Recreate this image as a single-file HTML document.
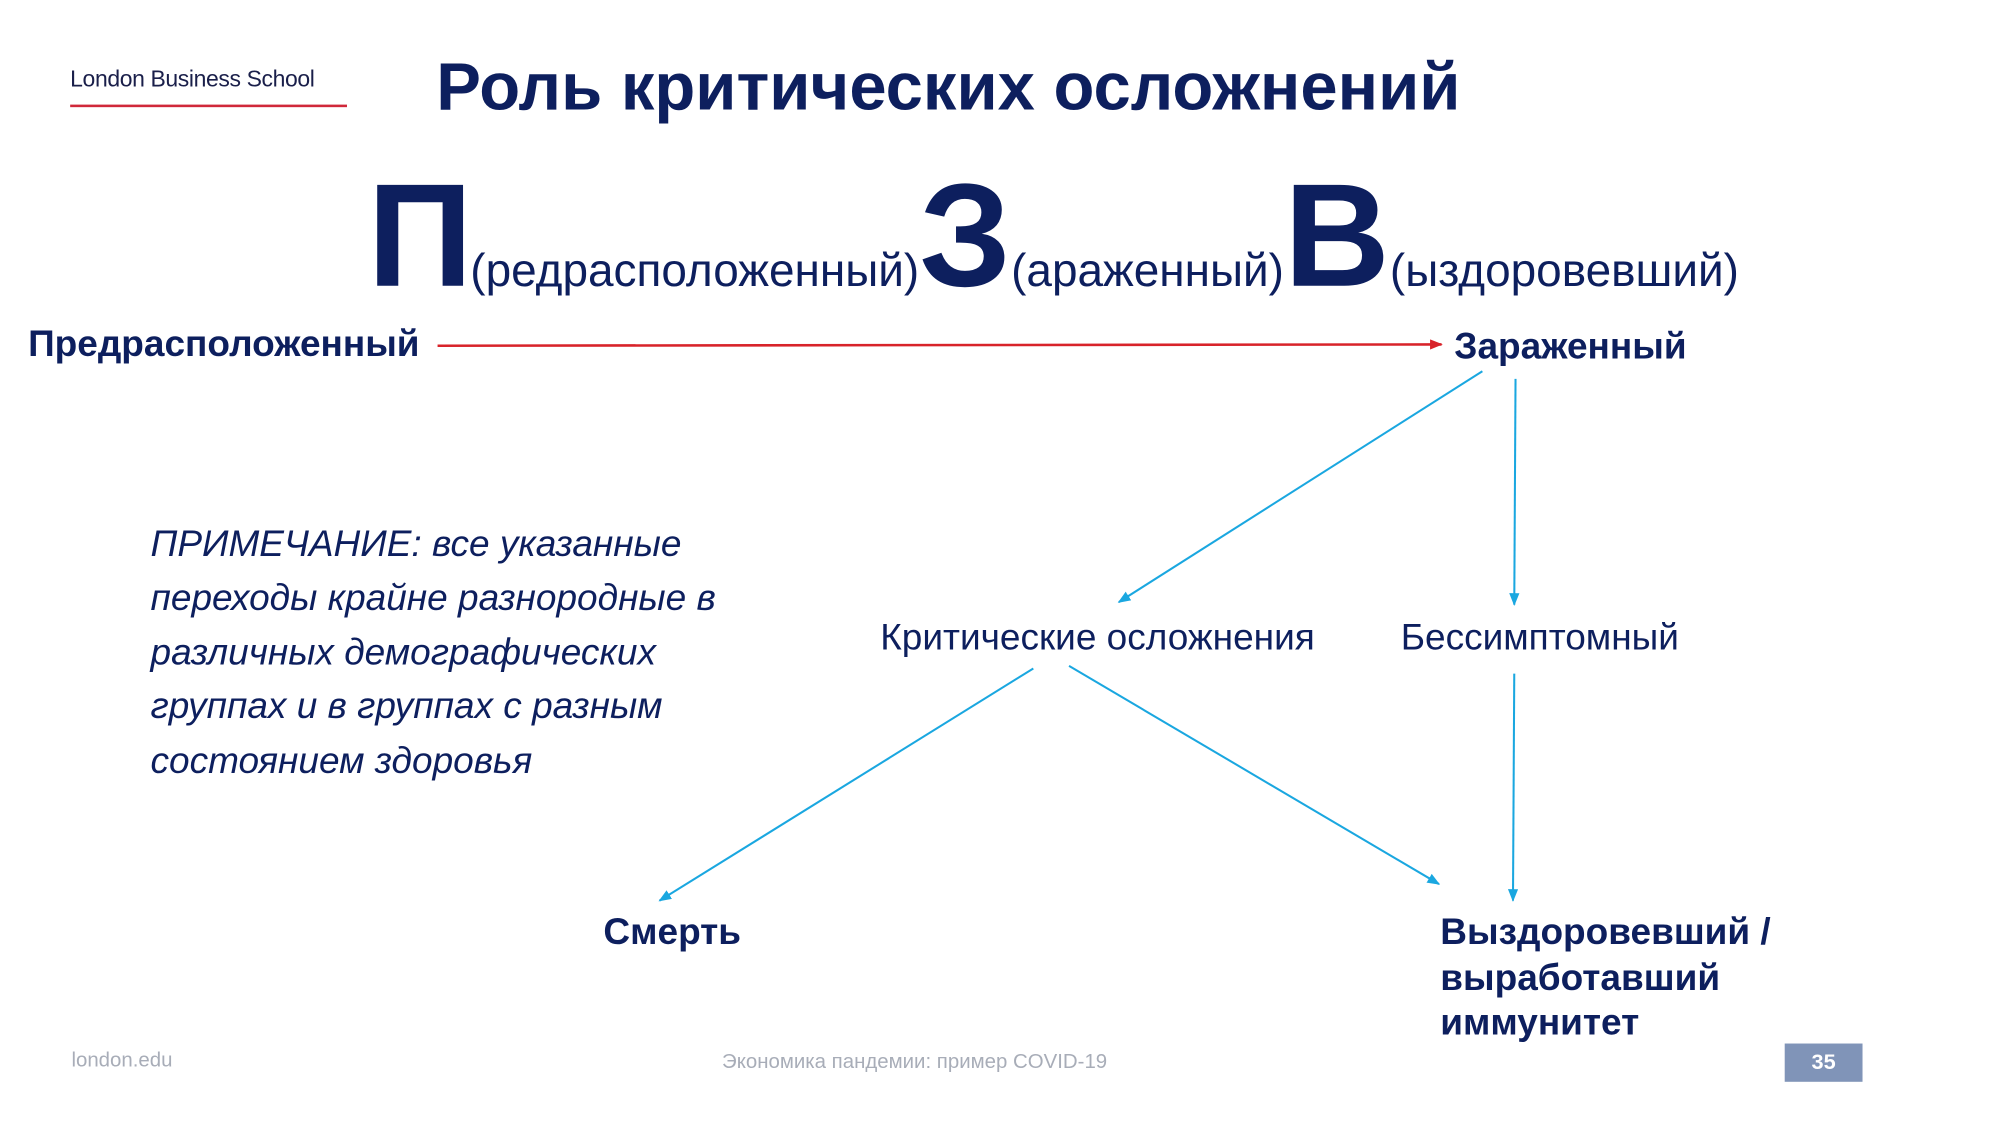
<!DOCTYPE html>
<html><head><meta charset="utf-8"><style>
html,body{margin:0;padding:0;background:#fff;width:2000px;height:1125px;overflow:hidden}
#s{position:absolute;left:0;top:0;width:1568px;height:882px;transform:scale(1.2757);transform-origin:0 0;font-family:"Liberation Sans",sans-serif;color:#0d1f5e}
.t{position:absolute;white-space:nowrap;line-height:1}
.b{font-weight:bold}
</style></head><body><div id="s">
<div class="t" style="left:55px;top:53px;font-size:18px;color:#1a1f4a;letter-spacing:-0.3px">London Business School</div>
<div style="position:absolute;left:55px;top:82px;width:217px;height:2px;background:#d0283a"></div>
<div class="t b" style="left:342px;top:43px;font-size:52.5px">Роль критических осложнений</div>
<div class="t" style="left:288px;top:128px;font-size:36px;display:flex;align-items:baseline">
<span class="b" style="font-size:115px;letter-spacing:-2px">П</span><span>(редрасположенный)</span><span class="b" style="font-size:115px">З</span><span>(араженный)</span><span class="b" style="font-size:115px">В</span><span>(ыздоровевший)</span></div>
<div class="t b" style="left:22px;top:256px;font-size:29px">Предрасположенный</div>
<div class="t b" style="left:1140px;top:258px;font-size:29px">Зараженный</div>
<div class="t" style="left:690px;top:486px;font-size:29px">Критические осложнения</div>
<div class="t" style="left:1098px;top:486px;font-size:29px">Бессимптомный</div>
<div class="t" style="left:118px;top:406px;font-size:29px;font-style:italic;line-height:42.4px">ПРИМЕЧАНИЕ: все указанные<br>переходы крайне разнородные в<br>различных демографических<br>группах и в группах с разным<br>состоянием здоровья</div>
<div class="t b" style="left:473px;top:717px;font-size:29px">Смерть</div>
<div class="t b" style="left:1129px;top:714px;font-size:29px;line-height:35.5px">Выздоровевший /<br>выработавший<br>иммунитет</div>
<div class="t" style="left:56px;top:824px;font-size:16px;color:#a8adb8">london.edu</div>
<div class="t" style="left:566px;top:825px;font-size:16px;color:#a8adb8">Экономика пандемии: пример COVID-19</div>
<div style="position:absolute;left:1399px;top:818px;width:61px;height:30px;background:#8094b8;color:#fff;font-weight:bold;font-size:17px;text-align:center;line-height:30px">35</div>
<svg width="1568" height="882" style="position:absolute;left:0;top:0">
<defs>
<marker id="r" markerWidth="10" markerHeight="8" refX="9" refY="4" orient="auto" markerUnits="userSpaceOnUse"><path d="M0,0L10,4L0,8z" fill="#d8232a"/></marker>
<marker id="c" markerWidth="10" markerHeight="8" refX="9" refY="4" orient="auto" markerUnits="userSpaceOnUse"><path d="M0,0L10,4L0,8z" fill="#1aa7e0"/></marker>
</defs>
<line x1="343" y1="271" x2="1130" y2="270" stroke="#d8232a" stroke-width="2" marker-end="url(#r)"/>
<g stroke="#1aa7e0" stroke-width="1.6" marker-end="url(#c)">
<line x1="1162" y1="291" x2="877" y2="472"/>
<line x1="1188" y1="297" x2="1187" y2="474"/>
<line x1="810" y1="524" x2="517" y2="706"/>
<line x1="838" y1="522" x2="1128" y2="693"/>
<line x1="1187" y1="528" x2="1186" y2="706"/>
</g></svg>
</div></body></html>
